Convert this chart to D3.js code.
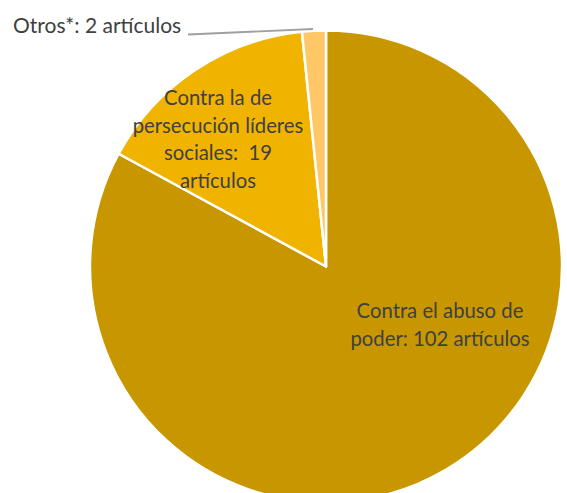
<!DOCTYPE html>
<html><head><meta charset="utf-8">
<script src="https://cdn.jsdelivr.net/npm/d3@7"></script>
<style>body{margin:0;background:#fff}svg{display:block}text{white-space:pre}</style>
</head><body>
<svg id="c" width="567" height="493"></svg>
<script>
const categories = ["Contra el abuso de poder", "Contra la de persecución líderes sociales", "Otros*"];
const values = [102, 19, 2];
const colors = ["#C89700", "#F0B400", "#FFC766"];
const labelLines = [
  ["Contra el abuso de", "poder: 102 artículos"],
  ["Contra la de", "persecución líderes", "sociales:  19", "artículos"],
  ["Otros*: 2 artículos"]
];

const svg = d3.select("#c");
const cx = 326, cy = 266.5, R = 236;
const g = svg.append("g").attr("transform", `translate(${cx},${cy})`);
const pie = d3.pie().sort(null).value(d => d)(values);
const arc = d3.arc().innerRadius(0).outerRadius(R);
g.selectAll("path").data(pie).join("path")
  .attr("d", arc).attr("fill", (d,i) => colors[i])
  .attr("stroke", "#fff").attr("stroke-width", 2.5).attr("stroke-linejoin","round");

const font = "Lato, 'Open Sans', sans-serif";
const fs = 20.3;
const anchors = [[114, 51.5], [-108, -161.5]];
[0,1].forEach(i => {
  const t = g.append("text").attr("text-anchor","middle")
    .attr("font-family", font).attr("font-size", fs).attr("fill","#404040");
  labelLines[i].forEach((s,k) => {
    t.append("tspan").attr("x", anchors[i][0]).attr("y", anchors[i][1] + k*27.5).text(s);
  });
});
svg.append("text").attr("x", 13).attr("y", 33).attr("font-family", font).attr("font-size", 21)
  .attr("fill","#404040").text(labelLines[2][0]);
svg.append("path").attr("d", "M188,34.5 L313,29").attr("stroke","#A0A0A0").attr("stroke-width",1.8).attr("fill","none");
</script>
</body></html>
